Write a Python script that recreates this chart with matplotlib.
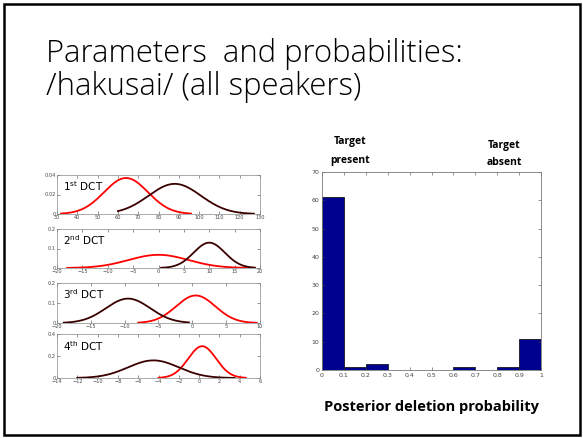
import numpy as np
import matplotlib.pyplot as plt
from matplotlib.patches import Rectangle

# Gaussian parameters per DCT coefficient: (mean, sd, x start, x end)
red_params = [(64, 10.8, 32, 96), (0, 5.9, -18, 19), (0.5, 2.9, -8, 9.5), (0.3, 1.38, -4, 4.6)]
dark_params = [(88, 12.9, 60, 127), (10, 3.07, 0.5, 19), (-9.5, 3.27, -19, -0.5), (-4.5, 2.49, -12, 3.5)]
panel_names = ["1", "2", "3", "4"]
panel_sups = ["st", "nd", "rd", "th"]
xlims = [(30, 130), (-20, 20), (-20, 10), (-14, 6)]
xsteps = [10, 5, 5, 2]
ylims = [0.04, 0.2, 0.2, 0.4]
ytick_labels = [["0", "0.02", "0.04"], ["0", "0.1", "0.2"], ["0", "0.1", "0.2"], ["0", "0.2", "0.4"]]

# histogram of posterior deletion probability
bin_edges = np.arange(0, 1.01, 0.1)
counts = [61, 1, 2, 0, 0, 0, 1, 0, 1, 11]

W, H = 583, 438
plt.rcParams['mathtext.fontset'] = 'dejavusans'
fig = plt.figure(figsize=(W / 100, H / 100), dpi=100)


def box(l, t, r, b):
    return [l / W, 1 - b / H, (r - l) / W, (b - t) / H]


def gauss(mu, sd, a, b):
    x = np.linspace(a, b, 200)
    return x, np.exp(-0.5 * ((x - mu) / sd) ** 2) / (sd * np.sqrt(2 * np.pi))


# slide frame
fig.patches.append(Rectangle((4 / W, 3 / H), 576 / W, 431 / H, transform=fig.transFigure,
                             fill=False, edgecolor='black', linewidth=1.8))

fig.text(46 / W, 1 - 62 / H, "Parameters  and probabilities:", fontsize=22.3,
         family='Open Sans', fontweight='light', color='black')
fig.text(46 / W, 1 - 95 / H, "/hakusai/ (all speakers)", fontsize=22.3,
         family='Open Sans', fontweight='light', color='black')

boxes = [(57, 175, 260, 214), (57, 229, 260, 268), (57, 283, 260, 323), (57, 334, 260, 378)]
for i in range(4):
    ax = fig.add_axes(box(*boxes[i]))
    x, y = gauss(*red_params[i])
    ax.plot(x, y, color='#ff0000', lw=1.3)
    x, y = gauss(*dark_params[i])
    ax.plot(x, y, color='#3a0000', lw=1.3)
    lo, hi = xlims[i]
    ax.set_xlim(lo, hi)
    ax.set_ylim(0, ylims[i])
    ax.set_xticks(np.arange(lo, hi + 0.1, xsteps[i]))
    ax.set_yticks(np.linspace(0, ylims[i], 3))
    ax.set_yticklabels(ytick_labels[i])
    ax.tick_params(direction='in', length=2, width=0.4, labelsize=3.6, pad=1,
                   top=True, right=True, colors='#444444')
    for s in ax.spines.values():
        s.set_linewidth(0.5)
        s.set_color('#888888')
    ax.text(0.03, 0.72, panel_names[i] + r"$^{\mathrm{" + panel_sups[i] + "}}$ DCT",
            transform=ax.transAxes, fontsize=7.5, va='center')

ax = fig.add_axes(box(322, 172, 541, 370))
ax.bar(bin_edges[:-1], counts, width=0.1, align='edge', color='#00008f',
       edgecolor='black', linewidth=0.5)
ax.set_xlim(0, 1)
ax.set_ylim(0, 70)
ax.set_xticks(bin_edges)
ax.set_xticklabels(["0", "0.1", "0.2", "0.3", "0.4", "0.5", "0.6", "0.7", "0.8", "0.9", "1"])
ax.set_yticks(np.arange(0, 71, 10))
ax.tick_params(direction='in', length=2.5, width=0.4, labelsize=4.5, pad=2,
               top=True, right=True, colors='#444444')
for s in ax.spines.values():
    s.set_linewidth(0.6)
    s.set_color('#777777')

fig.text(350 / W, 1 - 151 / H, "Target\npresent", fontsize=7.5, fontweight='bold',
         family='Open Sans', ha='center', va='center', linespacing=1.9)
fig.text(504 / W, 1 - 154 / H, "Target\nabsent", fontsize=7.5, fontweight='bold',
         family='Open Sans', ha='center', va='center', linespacing=1.7)
fig.text(432 / W, 1 - 407 / H, "Posterior deletion probability", fontsize=10.5,
         fontweight='bold', family='Open Sans', ha='center', va='center')

fig.savefig("out.png", dpi=100)
